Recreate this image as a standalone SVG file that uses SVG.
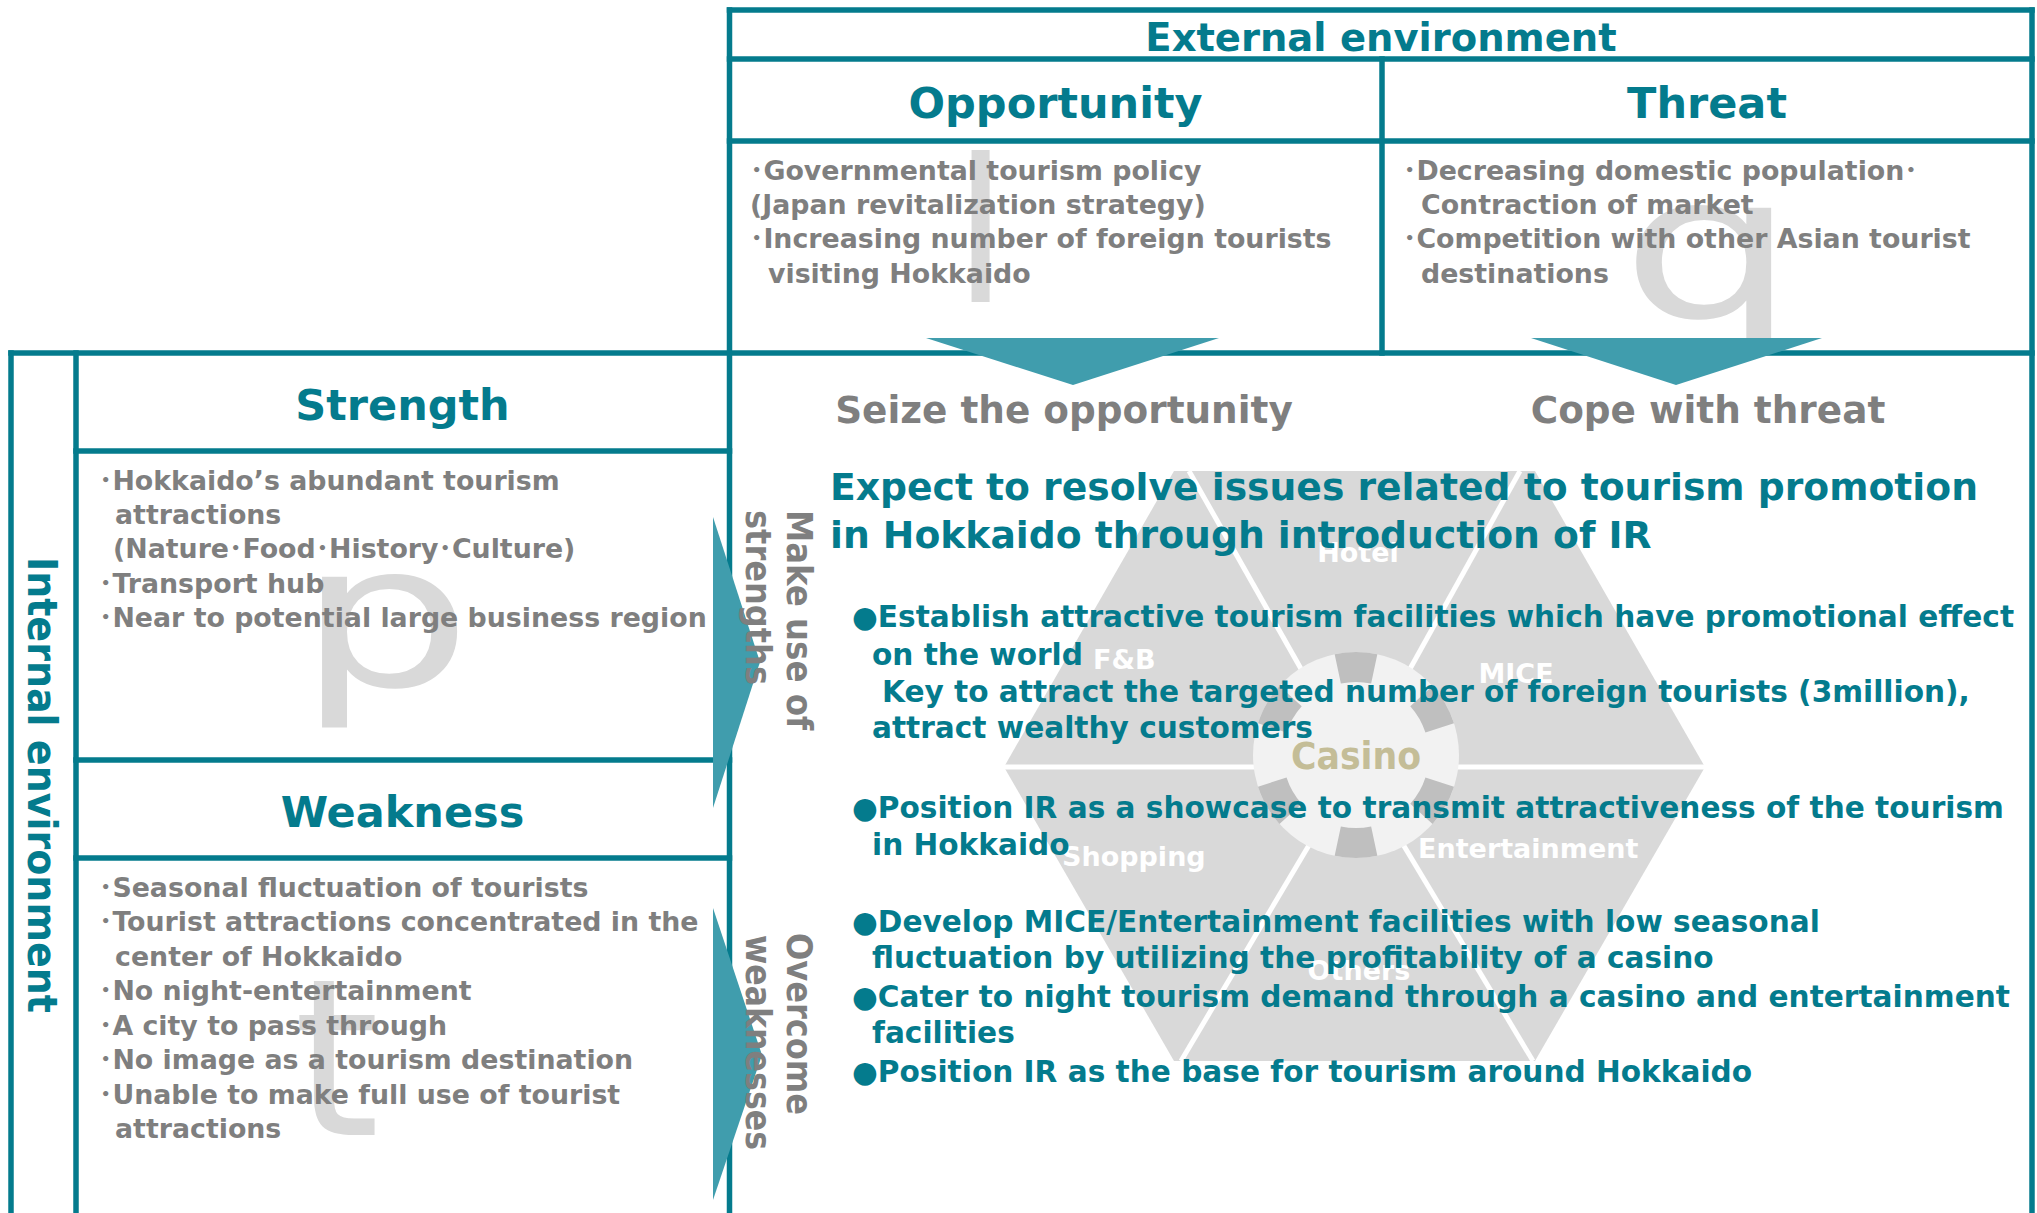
<svg xmlns="http://www.w3.org/2000/svg" width="2037" height="1213" viewBox="0 0 2037 1213">
<defs>
<style>
.ln{stroke:#047B8D;stroke-width:5.5;fill:none;stroke-linecap:square}
.hd{font-family:"DejaVu Sans","Noto Sans CJK JP",sans-serif;font-weight:bold;fill:#047B8D;text-anchor:middle}
.bd{font-family:"DejaVu Sans","Noto Sans CJK JP",sans-serif;font-weight:bold;font-size:26.8px;fill:#7F7F7F}
.tl{font-family:"DejaVu Sans","Noto Sans CJK JP",sans-serif;font-weight:bold;font-size:29.6px;fill:#047B8D}
.hl{font-family:"DejaVu Sans","Noto Sans CJK JP",sans-serif;font-weight:bold;font-size:37.7px;fill:#047B8D}
.sub{font-family:"DejaVu Sans",sans-serif;font-weight:bold;font-size:37.4px;fill:#7F7F7F;text-anchor:middle}
.vt{font-family:"DejaVu Sans",sans-serif;font-weight:bold;font-size:36px;fill:#7F7F7F}
.big{font-family:"DejaVu Sans",sans-serif;font-size:200px;fill:#D9D9D9}
.arw{fill:#409DAD}
.lbl{font-family:"DejaVu Sans",sans-serif;font-weight:bold;font-size:27px;fill:#FFFFFF}
.sep{stroke:#FFFFFF;stroke-width:5;fill:none}
</style>
<clipPath id="cT"><rect x="1385" y="144" width="645" height="206"/></clipPath>
</defs>
<rect x="0" y="0" width="2037" height="1213" fill="#FFFFFF"/>

<g id="watermarks">
<text class="big" x="980.5" y="302" text-anchor="middle">l</text>
<g clip-path="url(#cT)"><text class="big" transform="translate(1621,317) scale(1.38,1)">q</text></g>
<text class="big" transform="translate(297,686) scale(1.38,1)">p</text>
<text class="big" x="293.5" y="1135" style="font-size:220px">t</text>
</g>

<g id="ir-hexagon">
<polygon points="1004,767 1174,471 1535,471 1705,767 1535,1061 1174,1061" fill="#D9D9D9"/>
<line class="sep" x1="1004" y1="767" x2="1705" y2="767"/>
<line class="sep" x1="1356" y1="766" x2="1189" y2="471"/>
<line class="sep" x1="1356" y1="766" x2="1520" y2="471"/>
<line class="sep" x1="1356" y1="766" x2="1181" y2="1061"/>
<line class="sep" x1="1356" y1="766" x2="1533" y2="1061"/>
<text class="lbl" x="1358" y="562" text-anchor="middle">Hotel</text>
<text class="lbl" x="1093" y="669">F&amp;B</text>
<text class="lbl" x="1516" y="683" text-anchor="middle">MICE</text>
<text class="lbl" x="1062" y="866">Shopping</text>
<text class="lbl" x="1418" y="858">Entertainment</text>
<text class="lbl" x="1359" y="980" text-anchor="middle">Others</text>
<circle cx="1356" cy="755" r="103" fill="#F2F2F2"/>
<circle cx="1356" cy="755" r="88" fill="none" stroke="#BFBFBF" stroke-width="30" pathLength="360" stroke-dasharray="24 36" stroke-dashoffset="-18"/>
<text x="1291" y="769" textLength="130" lengthAdjust="spacingAndGlyphs" style="font-family:'DejaVu Sans',sans-serif;font-weight:bold;font-size:37px;fill:#C4BD97">Casino</text>
</g>

<g id="frame">
<line class="ln" x1="729.5" y1="10" x2="2032" y2="10"/>
<line class="ln" x1="729.5" y1="59" x2="2032" y2="59"/>
<line class="ln" x1="729.5" y1="141" x2="2032" y2="141"/>
<line class="ln" x1="11" y1="353" x2="2032" y2="353"/>
<line class="ln" x1="729.5" y1="10" x2="729.5" y2="1216"/>
<line class="ln" x1="2032" y1="10" x2="2032" y2="1216"/>
<line class="ln" x1="1382" y1="59" x2="1382" y2="353"/>
<line class="ln" x1="11" y1="353" x2="11" y2="1216"/>
<line class="ln" x1="76" y1="353" x2="76" y2="1216"/>
<line class="ln" x1="76" y1="451" x2="729.5" y2="451"/>
<line class="ln" x1="76" y1="760" x2="729.5" y2="760"/>
<line class="ln" x1="76" y1="858" x2="729.5" y2="858"/>
</g>

<g id="connectors">
<polygon class="arw" points="926,338 1219,338 1073,385"/>
<polygon class="arw" points="1531,338 1822,338 1676,385"/>
<polygon class="arw" points="713,517 760,662 713,808"/>
<polygon class="arw" points="713,908 762,1055 713,1200"/>
</g>

<g id="external-environment">
<text class="hd" x="1381" y="51" style="font-size:38.5px">External environment</text>
</g>

<g id="opportunity">
<text class="hd" x="1055.5" y="118" style="font-size:43px">Opportunity</text>
<text class="bd" x="750" y="180">･Governmental tourism policy</text>
<text class="bd" x="750" y="214">(Japan revitalization strategy)</text>
<text class="bd" x="750" y="248">･Increasing number of foreign tourists</text>
<text class="bd" x="768" y="283">visiting Hokkaido</text>
</g>

<g id="threat">
<text class="hd" x="1707" y="118" style="font-size:43px">Threat</text>
<text class="bd" x="1403" y="180">･Decreasing domestic population･</text>
<text class="bd" x="1421" y="214">Contraction of market</text>
<text class="bd" x="1403" y="248">･Competition with other Asian tourist</text>
<text class="bd" x="1421" y="283">destinations</text>
</g>

<g id="internal-environment">
<text transform="translate(28,557) rotate(90)" textLength="456" lengthAdjust="spacingAndGlyphs" style="font-family:'DejaVu Sans',sans-serif;font-weight:bold;font-size:40px;fill:#047B8D">Internal environment</text>
</g>

<g id="strength">
<text class="hd" x="402.5" y="420" style="font-size:43px">Strength</text>
<text class="bd" x="99" y="490">･Hokkaido’s abundant tourism</text>
<text class="bd" x="115" y="524">attractions</text>
<text class="bd" x="113" y="558">(Nature･Food･History･Culture)</text>
<text class="bd" x="99" y="593">･Transport hub</text>
<text class="bd" x="99" y="627">･Near to potential large business region</text>
</g>

<g id="weakness">
<text class="hd" x="402.5" y="827" style="font-size:43px">Weakness</text>
<text class="bd" x="99" y="897">･Seasonal fluctuation of tourists</text>
<text class="bd" x="99" y="931">･Tourist attractions concentrated in the</text>
<text class="bd" x="115" y="966">center of Hokkaido</text>
<text class="bd" x="99" y="1000">･No night-entertainment</text>
<text class="bd" x="99" y="1035">･A city to pass through</text>
<text class="bd" x="99" y="1069">･No image as a tourism destination</text>
<text class="bd" x="99" y="1104">･Unable to make full use of tourist</text>
<text class="bd" x="115" y="1138">attractions</text>
</g>

<g id="arrow-labels">
<text class="vt" transform="translate(787,510) rotate(90)" textLength="220" lengthAdjust="spacingAndGlyphs">Make use of</text>
<text class="vt" transform="translate(746,510) rotate(90)" textLength="175" lengthAdjust="spacingAndGlyphs">strengths</text>
<text class="vt" transform="translate(787,933) rotate(90)" textLength="182" lengthAdjust="spacingAndGlyphs">Overcome</text>
<text class="vt" transform="translate(746,935) rotate(90)" textLength="215" lengthAdjust="spacingAndGlyphs">weaknesses</text>
<text class="sub" x="1064" y="423">Seize the opportunity</text>
<text class="sub" x="1708" y="423">Cope with threat</text>
</g>

<g id="strategy">
<text class="hl" x="830" y="500">Expect to resolve issues related to tourism promotion</text>
<text class="hl" x="830" y="548">in Hokkaido through introduction of IR</text>
<text class="tl" x="852" y="627">●Establish attractive tourism facilities which have promotional effect</text>
<text class="tl" x="872" y="665">on the world</text>
<text class="tl" x="882" y="702">Key to attract the targeted number of foreign tourists (3million),</text>
<text class="tl" x="872" y="738">attract wealthy customers</text>
<text class="tl" x="852" y="818">●Position IR as a showcase to transmit attractiveness of the tourism</text>
<text class="tl" x="872" y="855">in Hokkaido</text>
<text class="tl" x="852" y="932">●Develop MICE/Entertainment facilities with low seasonal</text>
<text class="tl" x="872" y="968">fluctuation by utilizing the profitability of a casino</text>
<text class="tl" x="852" y="1007">●Cater to night tourism demand through a casino and entertainment</text>
<text class="tl" x="872" y="1043">facilities</text>
<text class="tl" x="852" y="1082">●Position IR as the base for tourism around Hokkaido</text>
</g>
</svg>
